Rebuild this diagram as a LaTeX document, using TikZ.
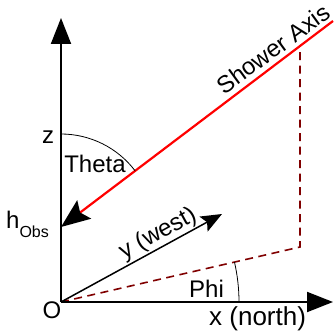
\documentclass[tikz,border=0pt]{standalone}
\usepackage{fontspec}
\setmainfont{Liberation Sans}
\usetikzlibrary{arrows.meta}
\definecolor{projred}{RGB}{128,0,0}
\begin{document}
\begin{tikzpicture}[x=1pt,y=1pt,
  axis/.style={line width=2pt,-{Triangle[length=26pt,width=20pt]}},
  yaxis/.style={line width=1.5pt,-{Stealth[length=21pt,width=17pt,inset=4pt]}},
  shower/.style={line width=2.2pt,red,-{Stealth[length=29pt,width=23pt,inset=5pt,color=black]}},
  proj/.style={line width=1.6pt,projred,dash pattern=on 8pt off 5.5pt},
  anglearc/.style={line width=0.8pt},
  lbl/.style={font=\fontsize{24}{28}\selectfont,inner sep=0pt},
  biglbl/.style={font=\fontsize{26}{30}\selectfont,inner sep=0pt}]
\useasboundingbox (0,0) rectangle (334,332);
\coordinate (O) at (61,30);
\coordinate (ztip) at (61,314);
\coordinate (xtip) at (333,30);
\coordinate (ytip) at (222,118);
\coordinate (hobs) at (61,105);
\coordinate (sstart) at (333,311);
\coordinate (foot) at (300,85);
\coordinate (top) at (300,286);
% projection
\draw[proj] (O) -- (foot) -- (top);
% axes
\draw[axis] (O) -- (ztip);
\draw[axis] (O) -- (xtip);
\draw[yaxis] (O) -- (ytip);
% shower axis
\draw[shower] (sstart) -- (hobs);
% angle arcs
\draw[anglearc] ([shift={(90:93)}]hobs) arc[start angle=90,end angle=37.14,radius=93];
\draw[anglearc] ([shift={(0:178)}]O) arc[start angle=0,end angle=12.96,radius=178];
% labels
\node[lbl,anchor=center] (zl) at (48,195) {z};
\node[lbl,anchor=base] (thl) at (95,159) {Theta};
\node[lbl,anchor=base west] (hl) at (6,104) {h\raisebox{-10pt}{\fontsize{16}{16}\selectfont Obs}};
\node[lbl,anchor=base] (ol) at (52,14) {O};
\node[lbl,anchor=base west] (phil) at (189,35) {Phi};
\node[biglbl,anchor=base west] (xl) at (209,7) {x (north)};
\node[lbl,anchor=center,rotate=28.7] (yl) at (158,98) {y (west)};
\node[lbl,anchor=center,rotate=36] (sl) at (273,283) {Shower Axis};
\end{tikzpicture}
\end{document}
